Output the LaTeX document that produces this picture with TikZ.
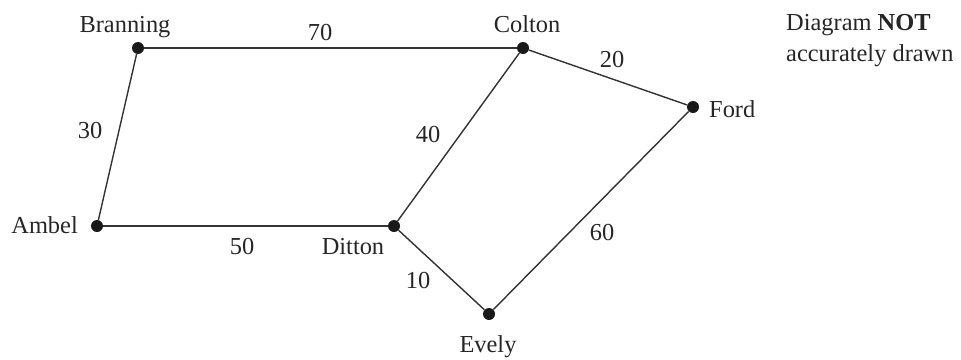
\documentclass[tikz,border=0pt]{standalone}
\usepackage{fontspec}
\setmainfont{Liberation Serif}
\begin{document}
\begin{tikzpicture}[x=1pt,y=-1pt,
  dot/.style={circle,fill=black!90,inner sep=0pt,minimum size=12pt},
  edge/.style={draw=black!80,line width=1.4pt},
  txt/.style={inner sep=0pt,text=black!85,font=\fontsize{24.4}{31}\selectfont}]
\useasboundingbox (0,0) rectangle (961,359);
% vertices
\node[dot] (B) at (138,48) {};
\node[dot] (C) at (523,48) {};
\node[dot] (F) at (693,107) {};
\node[dot] (A) at (97,226) {};
\node[dot] (D) at (394,226) {};
\node[dot] (E) at (489,314) {};
% edges
\draw[edge] (B) -- (C);
\draw[edge] (C) -- (F);
\draw[edge] (B) -- (A);
\draw[edge] (A) -- (D);
\draw[edge] (D) -- (C);
\draw[edge] (D) -- (E);
\draw[edge] (E) -- (F);
% vertex labels
\node[txt,anchor=base] (lB) at (125,32) {Branning};
\node[txt,anchor=base] (lC) at (527,32) {Colton};
\node[txt,anchor=base west] (lF) at (709,117) {Ford};
\node[txt,anchor=base east] (lA) at (78,233) {Ambel};
\node[txt,anchor=base] (lD) at (353,254) {Ditton};
\node[txt,anchor=base] (lE) at (488,352) {Evely};
% weights
\node[txt,anchor=base] (w70) at (320,40) {70};
\node[txt,anchor=base] (w20) at (612,67) {20};
\node[txt,anchor=base] (w30) at (90,138) {30};
\node[txt,anchor=base] (w40) at (428,142) {40};
\node[txt,anchor=base] (w50) at (242,254) {50};
\node[txt,anchor=base] (w60) at (602,240) {60};
\node[txt,anchor=base] (w10) at (418,288) {10};
% note
\node[txt,anchor=base west] (n1) at (786,30) {Diagram \textbf{NOT}};
\node[txt,anchor=base west] (n2) at (786,61) {accurately drawn};
\end{tikzpicture}
\end{document}
